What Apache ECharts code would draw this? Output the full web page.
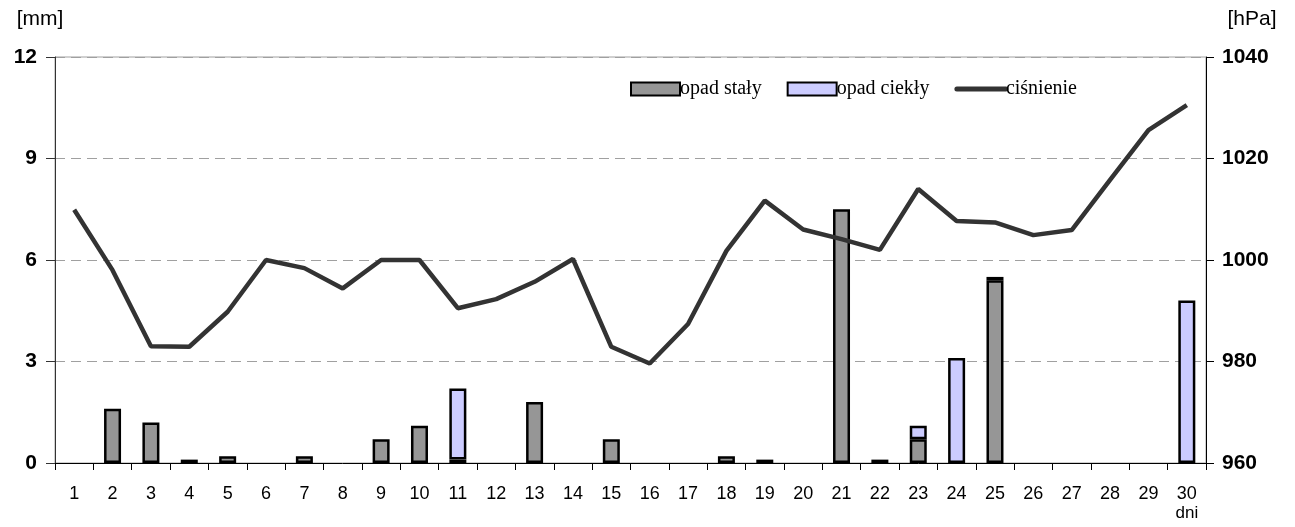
<!DOCTYPE html>
<html>
<head>
<meta charset="utf-8">
<script src="https://cdn.jsdelivr.net/npm/echarts@6/dist/echarts.min.js"></script>
<style>
  html, body { margin: 0; padding: 0; background: #fff; }
  #chart { width: 1295px; height: 527px; }
</style>
</head>
<body>
<div id="chart"></div>
<script>
  // dni miesiąca
  const days = ['1', '2', '3', '4', '5', '6', '7', '8', '9', '10', '11', '12', '13', '14', '15',
    '16', '17', '18', '19', '20', '21', '22', '23', '24', '25', '26', '27', '28', '29', '30']
  // opad stały [mm]
  const solidRain = [0, 1.6, 1.2, 0.1, 0.2, 0, 0.2, 0, 0.7, 1.1, 0.1, 0, 1.8, 0, 0.7,
    0, 0, 0.2, 0.1, 0, 7.5, 0.1, 0.7, 0, 5.4, 0, 0, 0, 0, 0]
  // opad ciekły [mm]
  const liquidRain = [0, 0, 0, 0, 0, 0, 0, 0, 0, 0, 2.1, 0, 0, 0, 0,
    0, 0, 0, 0, 0, 0, 0, 0.4, 3.1, 0.1, 0, 0, 0, 0, 4.8]
  // ciśnienie [hPa]
  const pressure = [1009.9, 998.0, 983.0, 982.9, 989.8, 1000.0, 998.4, 994.4, 1000.0, 1000.0,
    990.5, 992.3, 995.7, 1000.2, 982.9, 979.6, 987.4, 1001.8, 1011.7, 1006.0,
    1004.1, 1002.0, 1014.0, 1007.7, 1007.4, 1004.9, 1005.9, 1015.8, 1025.6, 1030.5]

  const sansFont = '"Liberation Sans", Arial, sans-serif'
  const barBase = {
    type: 'bar',
    stack: 'opad',
    barWidth: 17,
    yAxisIndex: 0,
  }
  // zera nie rysujemy (brak słupka)
  const noZero = (arr) => arr.map((v) => (v === 0 ? null : v))

  const chart = echarts.init(document.getElementById('chart'))
  chart.setOption({
    animation: false,
    grid: {
      left: 55,
      right: 89,
      top: 57,
      bottom: 64,
      show: true,
      borderColor: '#a0a0a0',
      borderWidth: 1,
    },
    legend: {
      left: 625,
      top: 74,
      itemWidth: 49,
      itemHeight: 13,
      itemGap: 25,
      textStyle: {
        fontFamily: '"Liberation Serif", "Times New Roman", serif',
        fontSize: 20,
        color: '#000',
        padding: [0, 0, 0, -5],
      },
      data: [
        { name: 'opad stały', icon: 'rect' },
        { name: 'opad ciekły', icon: 'rect' },
        {
          name: 'ciśnienie',
          itemStyle: { color: 'rgba(0,0,0,0)', borderWidth: 0 },
          lineStyle: { color: '#333', width: 5, cap: 'round' },
        },
      ],
    },
    xAxis: {
      type: 'category',
      data: days,
      axisLine: { lineStyle: { color: '#000', width: 1 } },
      axisTick: { show: true, length: 7, lineStyle: { color: '#000' } },
      axisLabel: {
        interval: 0,
        margin: 22,
        color: '#000',
        fontFamily: sansFont,
        fontSize: 18,
        formatter: (v) => (v === '30' ? '30\n{d|dni}' : v),
        rich: {
          d: { fontSize: 17, fontFamily: sansFont, color: '#000', lineHeight: 21 },
        },
      },
    },
    yAxis: [
      {
        type: 'value',
        min: 0,
        max: 12,
        interval: 3,
        name: '[mm]',
        nameLocation: 'end',
        nameGap: 27,
        nameTextStyle: {
          fontFamily: sansFont,
          fontSize: 21,
          color: '#000',
          align: 'center',
          padding: [0, 30, 0, 0],
        },
        axisLine: { show: true, lineStyle: { color: '#333' } },
        axisTick: { show: true, length: 9, lineStyle: { color: '#333' } },
        axisLabel: {
          margin: 18,
          color: '#000',
          fontFamily: sansFont,
          fontSize: 21,
          fontWeight: 'bold',
        },
        splitLine: {
          show: true,
          lineStyle: { color: '#a0a0a0', type: [10, 6], width: 1 },
        },
      },
      {
        type: 'value',
        min: 960,
        max: 1040,
        interval: 20,
        name: '[hPa]',
        nameLocation: 'end',
        nameGap: 27,
        nameTextStyle: {
          fontFamily: sansFont,
          fontSize: 21,
          color: '#000',
          align: 'center',
          padding: [0, 0, 0, 92],
        },
        axisLine: { show: true, lineStyle: { color: '#000' } },
        axisTick: { show: true, length: 8, lineStyle: { color: '#000' } },
        axisLabel: {
          margin: 16,
          color: '#000',
          fontFamily: sansFont,
          fontSize: 21,
          fontWeight: 'bold',
          formatter: (v) => String(v),
        },
        splitLine: { show: false },
      },
    ],
    series: [
      Object.assign({}, barBase, {
        name: 'opad stały',
        data: noZero(solidRain),
        itemStyle: { color: '#969696', borderColor: '#000', borderWidth: 2.5 },
      }),
      Object.assign({}, barBase, {
        name: 'opad ciekły',
        data: noZero(liquidRain),
        itemStyle: { color: '#ccccff', borderColor: '#000', borderWidth: 2.5 },
      }),
      {
        name: 'ciśnienie',
        type: 'line',
        yAxisIndex: 1,
        data: pressure,
        symbol: 'none',
        lineStyle: { color: '#333', width: 4.5 },
        itemStyle: { color: '#333' },
        z: 5,
      },
    ],
  })
</script>
</body>
</html>
